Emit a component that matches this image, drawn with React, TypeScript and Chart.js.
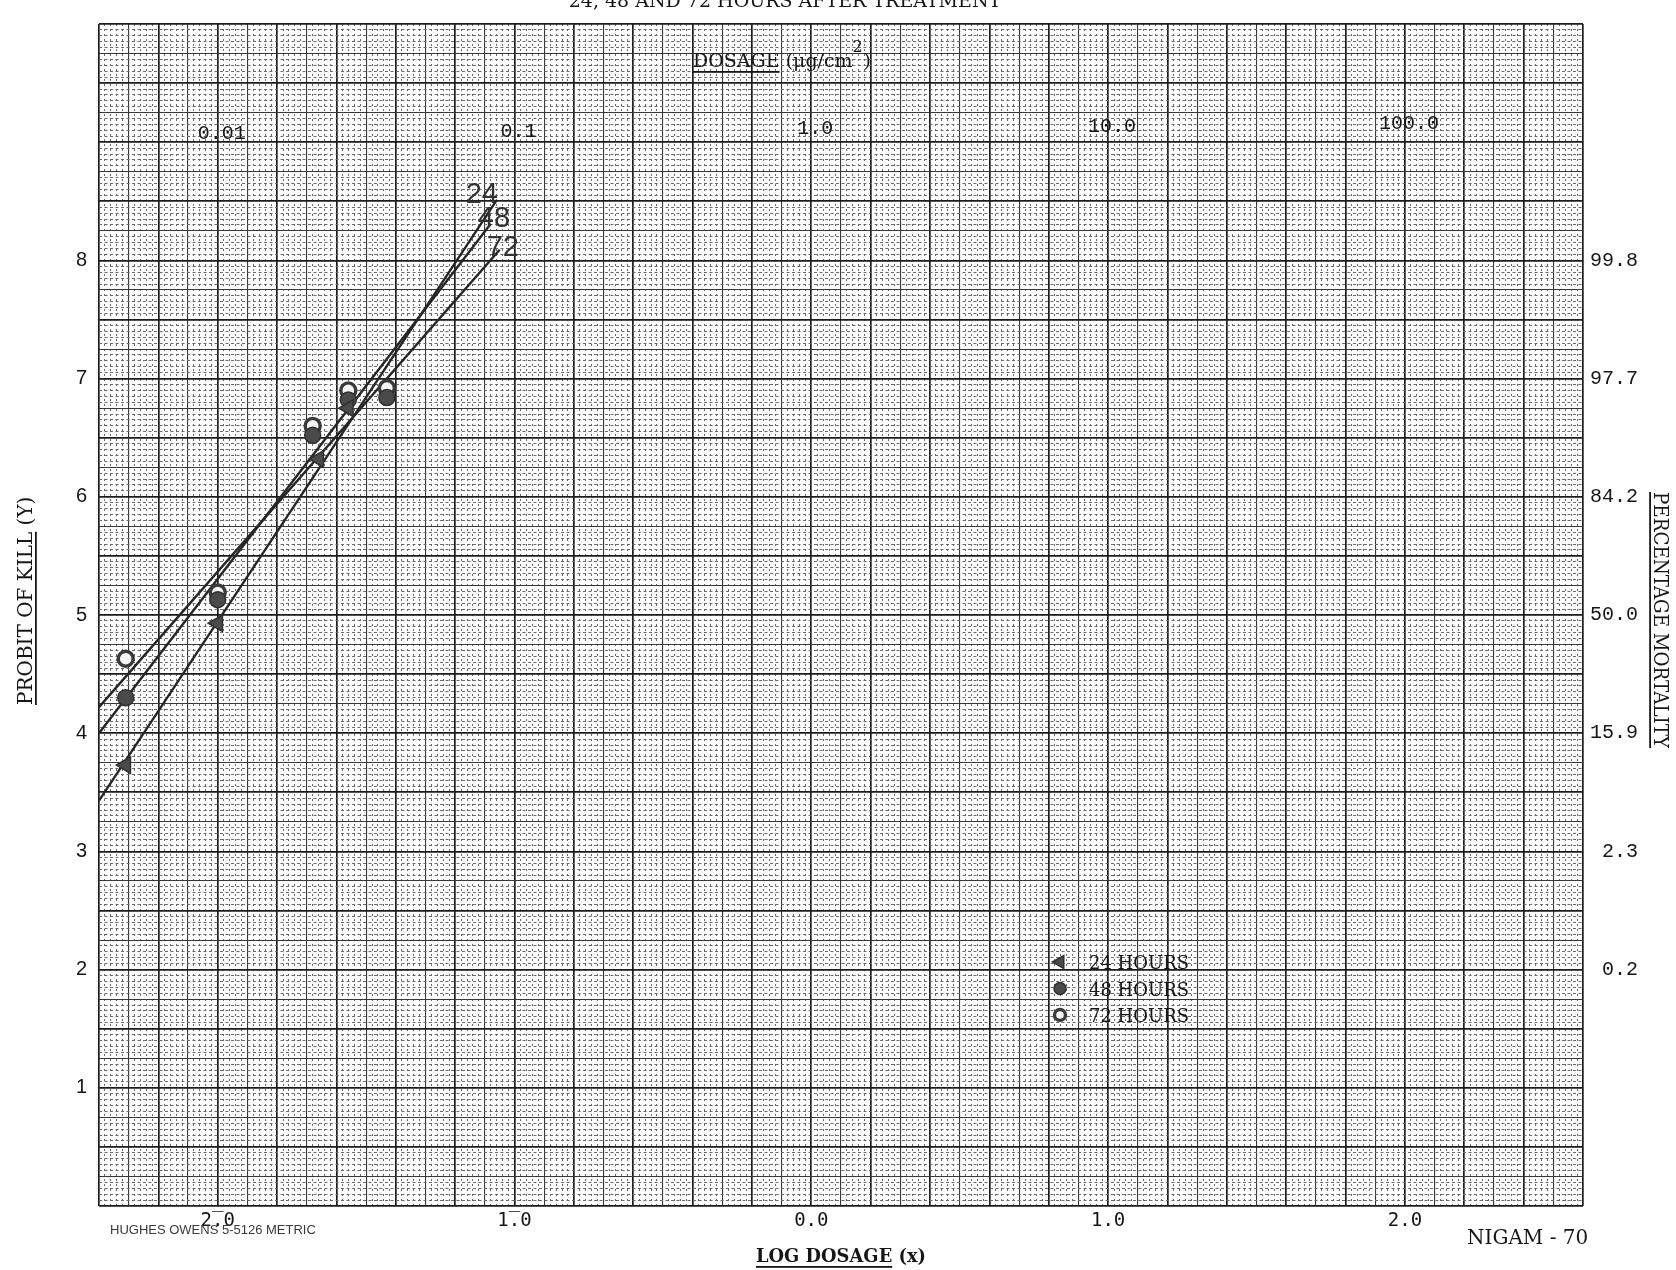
import React, { useEffect, useRef } from 'react';
import { Chart, registerables } from 'chart.js';
import { drawPoint } from 'chart.js/helpers';

Chart.register(...registerables);

// ---------- texts ----------
const TITLE = '24, 48 AND 72 HOURS AFTER TREATMENT';
const X_TITLE_MAIN = 'LOG DOSAGE';
const X_TITLE_REST = ' (x)';
const Y_TITLE_MAIN = 'PROBIT OF KILL';
const Y_TITLE_REST = ' (Y)';
const Y2_TITLE = 'PERCENTAGE MORTALITY';
const DOSE_TITLE_MAIN = 'DOSAGE';
const DOSE_TITLE_REST = ' (\u03bcg/cm';
const DOSE_TITLE_SUP = '2';
const DOSE_TITLE_END = ')';
const PAPER_MARK = 'HUGHES OWENS 5-5126 METRIC';
const AUTHOR_MARK = 'NIGAM - 70';

// ---------- axes ----------
const X_MIN = -2.4;
const X_MAX = 2.6;
const Y_MIN = 0;
const Y_MAX = 10;
const X_TICK_VALUES = [-2, -1, 0, 1, 2];
const X_TICK_LABELS = ['2\u0305.0', '1\u0305.0', '0.0', '1.0', '2.0'];
const DOSE_VALUES = [0.01, 0.1, 1, 10, 100];
const DOSE_LABELS = ['0.01', '0.1', '1.0', '10.0', '100.0'];
const Y_TICK_VALUES = [1, 2, 3, 4, 5, 6, 7, 8];
const PCT_PROBITS = [2, 3, 4, 5, 6, 7, 8];
const PCT_LABELS = ['0.2', '2.3', '15.9', '50.0', '84.2', '97.7', '99.8'];

// ---------- series ----------
const SERIES_LABELS = ['24 HOURS', '48 HOURS', '72 HOURS'];
const LINE_LABELS = ['24', '48', '72'];

const LOG_DOSE_24 = [-2.31, -2.0, -1.66, -1.56];
const PROBIT_24 = [3.73, 4.93, 6.32, 6.75];
const LOG_DOSE_48 = [-2.31, -2.0, -1.68, -1.56, -1.43];
const PROBIT_48 = [4.3, 5.13, 6.52, 6.82, 6.84];
const LOG_DOSE_72 = [-2.31, -2.0, -1.68, -1.56, -1.43];
const PROBIT_72 = [4.63, 5.19, 6.6, 6.9, 6.92];

const FIT_24_X = [-2.4, -1.06];
const FIT_24_Y = [3.43, 8.51];
const FIT_48_X = [-2.4, -1.08];
const FIT_48_Y = [4.0, 8.31];
const FIT_72_X = [-2.4, -1.05];
const FIT_72_Y = [4.22, 8.09];

// ---------- styles ----------
const INK = '#161616';
const LINE_COLOR = '#262626';
const MARKER_FILL = '#4a4a4a';
const MARKER_EDGE = '#303030';
const GRID_COLOR = ['#6a6a6a', '#383838', '#1c1c1c'];
const GRID_WIDTH = [1, 1.1, 1.7];
const X_MINOR_DASH = [2, 3];
const Y_MINOR_DASH = [3, 2.5];
const MARKERS = [
  { pointStyle: 'triangle', rotation: 270, radius: 9.5, fill: MARKER_FILL, edge: MARKER_EDGE, borderWidth: 1.5 },
  { pointStyle: 'circle', rotation: 0, radius: 8, fill: MARKER_FILL, edge: MARKER_EDGE, borderWidth: 1.5 },
  { pointStyle: 'circle', rotation: 0, radius: 7.5, fill: '#f4f4f4', edge: '#3a3a3a', borderWidth: 3.4 },
];
const LINE_LABEL_OFFSETS = [[-31, 3], [-13, 3], [-13, 6]];
const SERIF = '"DejaVu Serif"';
const MONO = '"Liberation Mono"';
const SANS = '"Liberation Sans"';

const xKind = (v: number) => {
  const k = Math.round(v * 50);
  return k % 10 === 0 ? 2 : k % 5 === 0 ? 1 : 0;
};
const yKind = (v: number) => {
  const k = Math.round(v * 20);
  return k % 10 === 0 ? 2 : k % 5 === 0 ? 1 : 0;
};
const findLabel = (v: number, vals: number[], labels: string[]) => {
  for (let i = 0; i < vals.length; i++) if (Math.abs(v - vals[i]) < 1e-6) return labels[i];
  return '';
};

function drawTxt(ctx: CanvasRenderingContext2D, s: string, x: number, y: number, font: string, align: CanvasTextAlign = 'left', maxWidth?: number) {
  ctx.font = font;
  ctx.textAlign = align;
  ctx.textBaseline = 'alphabetic';
  if (maxWidth !== undefined) ctx.fillText(s, x, y, maxWidth);
  else ctx.fillText(s, x, y);
}

// draws main+rest left-aligned starting at x (local coords), underlining main, fitting total to width
function drawUnderlined(ctx: CanvasRenderingContext2D, main: string, rest: string, x: number, y: number, font: string, width: number, ulOffset: number) {
  ctx.font = font;
  const full = ctx.measureText(main + rest).width;
  const f = Math.min(1, width / full);
  drawTxt(ctx, main + rest, x, y, font, 'left', width);
  const ulw = ctx.measureText(main).width * f;
  ctx.fillRect(x, y + ulOffset, ulw, 1.8);
  return full * f;
}

const annotate = {
  id: 'annotate',
  beforeDraw(chart: any) {
    const c = chart.ctx;
    c.save();
    c.fillStyle = '#ffffff';
    c.fillRect(0, 0, chart.width, chart.height);
    c.restore();
  },
  afterDraw(chart: any) {
    const ctx: CanvasRenderingContext2D = chart.ctx;
    const xs = chart.scales.x;
    const ys = chart.scales.y;
    const area = chart.chartArea;
    ctx.save();
    ctx.fillStyle = INK;

    // title (partly cut off at top, as in the scan)
    drawTxt(ctx, TITLE, 785, 7, `19px ${SERIF}`, 'center', 441);

    // dosage title
    {
      const font = `19px ${SERIF}`;
      const x0 = 693;
      const y0 = area.top + 43;
      const w = drawUnderlined(ctx, DOSE_TITLE_MAIN, DOSE_TITLE_REST, x0, y0, font, 164, 4);
      const xe = x0 + w;
      drawTxt(ctx, DOSE_TITLE_SUP, xe, y0 - 15, `16px ${SERIF}`, 'left');
      drawTxt(ctx, DOSE_TITLE_END, xe + 11, y0, font, 'left');
    }

    // dose labels on top
    DOSE_VALUES.forEach((d, i) => {
      const px = xs.getPixelForValue(Math.log10(d));
      drawTxt(ctx, DOSE_LABELS[i], px + 4, area.top + 115 - i * 2.5, `20px ${MONO}`, 'center');
    });

    // line labels
    const fits = [[FIT_24_X, FIT_24_Y], [FIT_48_X, FIT_48_Y], [FIT_72_X, FIT_72_Y]];
    fits.forEach(([fx, fy], i) => {
      const n = fx.length - 1;
      const px = xs.getPixelForValue(fx[n]);
      const py = ys.getPixelForValue(fy[n]);
      ctx.fillStyle = '#333333';
      drawTxt(ctx, LINE_LABELS[i], px + LINE_LABEL_OFFSETS[i][0], py + LINE_LABEL_OFFSETS[i][1], `29px ${SANS}`, 'left');
    });
    ctx.fillStyle = INK;

    // legend
    SERIES_LABELS.forEach((lab, i) => {
      const m = MARKERS[i];
      const my = 962 + i * 26.5;
      ctx.fillStyle = m.fill;
      ctx.strokeStyle = m.edge;
      ctx.lineWidth = m.borderWidth;
      drawPoint(ctx, { pointStyle: m.pointStyle, rotation: m.rotation, radius: m.radius - 2, borderWidth: m.borderWidth } as any, 1060, my);
      ctx.fillStyle = INK;
      drawTxt(ctx, lab, 1089, my + 7, `18px ${SERIF}`, 'left', 100);
    });

    // left title, rotated
    ctx.save();
    ctx.translate(25, 596);
    ctx.rotate(-Math.PI / 2);
    drawUnderlined(ctx, Y_TITLE_MAIN, Y_TITLE_REST, -109, 7, `20px ${SERIF}`, 218, 3);
    ctx.restore();

    // right title, rotated
    ctx.save();
    ctx.translate(1661, 620);
    ctx.rotate(Math.PI / 2);
    drawUnderlined(ctx, Y2_TITLE, '', -128, 7, `20px ${SERIF}`, 256, 3);
    ctx.restore();

    // bottom texts
    drawUnderlined(ctx, X_TITLE_MAIN, X_TITLE_REST, 756, 1262, `bold 19px ${SERIF}`, 170, 4);
    drawTxt(ctx, AUTHOR_MARK, 1467, 1244, `20px ${SERIF}`, 'left', 124);
    ctx.fillStyle = '#3a3a3a';
    drawTxt(ctx, PAPER_MARK, 110, 1234, `13px ${SANS}`, 'left', 229);
    ctx.restore();
  },
};

export default function App() {
  const ref = useRef<HTMLCanvasElement | null>(null);
  useEffect(() => {
    document.body.style.margin = '0';
    const canvas = ref.current;
    if (!canvas) return;
    const mk = (xs: number[], ys: number[]) => xs.map((x, i) => ({ x, y: ys[i] }));
    const pointSets = [
      [LOG_DOSE_24, PROBIT_24],
      [LOG_DOSE_48, PROBIT_48],
      [LOG_DOSE_72, PROBIT_72],
    ].map(([xs, ys], i) => ({
      label: SERIES_LABELS[i],
      data: mk(xs, ys),
      showLine: false,
      pointStyle: MARKERS[i].pointStyle,
      rotation: MARKERS[i].rotation,
      pointRadius: MARKERS[i].radius,
      backgroundColor: MARKERS[i].fill,
      borderColor: MARKERS[i].edge,
      borderWidth: MARKERS[i].borderWidth,
      order: 0,
    }));
    const lineSets = [
      [FIT_24_X, FIT_24_Y],
      [FIT_48_X, FIT_48_Y],
      [FIT_72_X, FIT_72_Y],
    ].map(([xs, ys], i) => ({
      label: LINE_LABELS[i],
      data: mk(xs, ys),
      showLine: true,
      borderColor: LINE_COLOR,
      borderWidth: 2.4,
      pointRadius: 0,
      order: 1,
    }));

    const chart = new Chart(canvas, {
      type: 'scatter',
      data: { datasets: [...pointSets, ...lineSets] as any },
      plugins: [annotate as any],
      options: {
        animation: false,
        responsive: true,
        maintainAspectRatio: false,
        events: [],
        layout: { padding: { top: 16, left: 0, right: 38, bottom: 0 } },
        plugins: { legend: { display: false }, tooltip: { enabled: false }, title: { display: false } },
        scales: {
          x: {
            type: 'linear',
            position: 'bottom',
            min: X_MIN,
            max: X_MAX,
            afterFit: (s: any) => { s.height = 64; },
            ticks: {
              stepSize: 0.02,
              autoSkip: false,
              maxRotation: 0,
              minRotation: 0,
              padding: 4,
              color: INK,
              font: { family: 'DejaVu Sans Mono', size: 19 },
              callback: (v: any) => findLabel(Number(v), X_TICK_VALUES, X_TICK_LABELS),
            },
            grid: {
              drawTicks: false,
              color: (c: any) => GRID_COLOR[xKind(c.tick ? c.tick.value : 0)],
              lineWidth: (c: any) => GRID_WIDTH[xKind(c.tick ? c.tick.value : 0)],
            },
            border: {
              display: false,
              dash: (c: any) => (c.tick && xKind(c.tick.value) === 0 ? X_MINOR_DASH : []),
            },
          } as any,
          y: {
            type: 'linear',
            position: 'left',
            min: Y_MIN,
            max: Y_MAX,
            afterFit: (s: any) => { s.width = 99; },
            ticks: {
              stepSize: 0.05,
              autoSkip: false,
              padding: 12,
              color: INK,
              font: { family: 'Liberation Sans', size: 20 },
              callback: (v: any) => findLabel(Number(v), Y_TICK_VALUES, Y_TICK_VALUES.map(String)),
            },
            grid: {
              drawTicks: false,
              color: (c: any) => GRID_COLOR[yKind(c.tick ? c.tick.value : 0)],
              lineWidth: (c: any) => GRID_WIDTH[yKind(c.tick ? c.tick.value : 0)],
            },
            border: {
              display: false,
              dash: (c: any) => (c.tick && yKind(c.tick.value) === 0 ? Y_MINOR_DASH : []),
            },
          } as any,
          y2: {
            type: 'linear',
            position: 'right',
            min: Y_MIN,
            max: Y_MAX,
            afterFit: (s: any) => { s.width = 55; },
            ticks: {
              stepSize: 1,
              autoSkip: false,
              padding: 0,
              crossAlign: 'far',
              color: INK,
              font: { family: 'Liberation Mono', size: 20 },
              callback: (v: any) => findLabel(Number(v), PCT_PROBITS, PCT_LABELS),
            },
            grid: { display: false, drawTicks: false },
            border: { display: false },
          } as any,
        },
      },
    });
    return () => chart.destroy();
  }, []);

  return (
    <div style={{ width: 1676, height: 1270, position: 'relative', background: '#fff' }}>
      <canvas ref={ref} />
    </div>
  );
}
